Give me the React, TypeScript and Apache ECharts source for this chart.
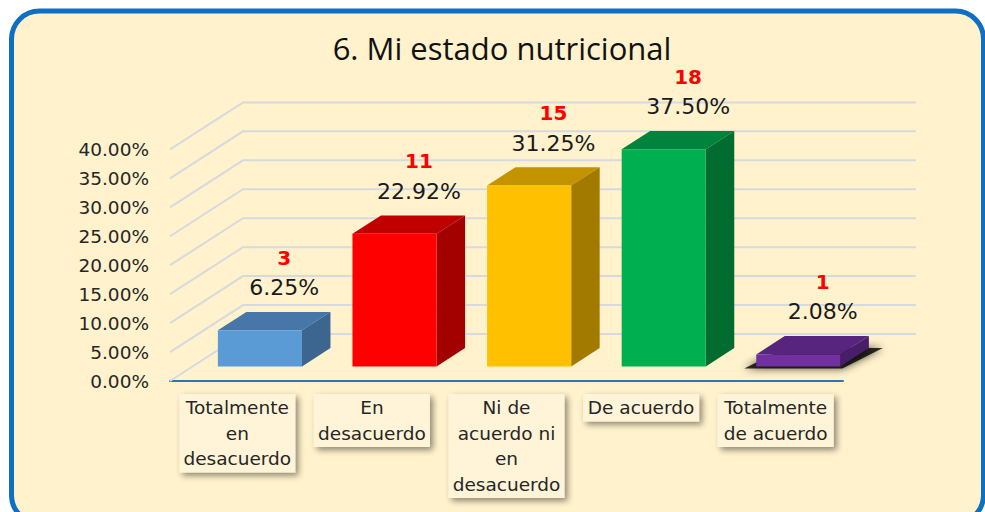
import React, { useEffect, useRef } from "react";
import * as echarts from "echarts";

const TITLE = "6. Mi estado nutricional";
const CATEGORIES = [
  "Totalmente\nen\ndesacuerdo",
  "En\ndesacuerdo",
  "Ni de\nacuerdo ni\nen\ndesacuerdo",
  "De acuerdo",
  "Totalmente\nde acuerdo",
];
const PERCENTS = [6.25, 22.92, 31.25, 37.5, 2.08];
const COUNTS = [3, 11, 15, 18, 1];
const GRID_VALUES = [0, 5, 10, 15, 20, 25, 30, 35, 40];

const FRONT_COLORS = ["#5B9BD5", "#FF0000", "#FFC000", "#00B050", "#7030A0"];
const TOP_COLORS = ["#4677A8", "#C00000", "#C49300", "#00833C", "#57257E"];
const SIDE_COLORS = ["#3C6590", "#A30000", "#A27A00", "#006C30", "#481E68"];
const SHADOWED = [false, false, false, false, true];

// 3D projection constants (pixels for full floor depth)
const DX = 73;
const DY = 47;
const D0 = 0.31;
const D1 = 0.7;
const BAR_RATIO = 0.625;

export default function App() {
  const ref = useRef<HTMLDivElement>(null);

  useEffect(() => {
    if (!ref.current) return;
    const chart = echarts.init(ref.current, null, { renderer: "svg" });

    const renderGrid = (params: any, api: any) => {
      const v = api.value(1);
      const p = api.coord([0, v]);
      const cs = params.coordSys;
      const left = cs.x;
      const right = cs.x + cs.width;
      return {
        type: "polyline",
        shape: {
          points: [
            [left, p[1]],
            [left + DX, p[1] - DY],
            [right + DX, p[1] - DY],
          ],
        },
        style: { stroke: "#D6D9DE", lineWidth: 2, fill: "none" },
      };
    };

    const renderBar = (params: any, api: any) => {
      const idx = api.value(0);
      const val = api.value(1);
      const i = params.dataIndex;
      const base = api.coord([idx, 0]);
      const top = api.coord([idx, val]);
      const band = api.size([1, 0])[0];
      const w = band * BAR_RATIO;
      const cx = base[0];
      const fx0 = cx - w / 2 + D0 * DX;
      const fx1 = cx + w / 2 + D0 * DX;
      const fyb = base[1] - D0 * DY;
      const fyt = top[1] - D0 * DY;
      const bdx = (D1 - D0) * DX;
      const bdy = (D1 - D0) * DY;
      const children: any[] = [];
      if (SHADOWED[i]) {
        children.push({
          type: "polygon",
          shape: {
            points: [
              [fx0 - 12, fyb + 2],
              [fx0 + bdx, fyb - bdy],
              [fx1 + bdx + 14, fyb - bdy],
              [fx1 + 2, fyb + 2],
            ],
          },
          style: {
            fill: "rgba(0,0,0,0.8)",
            shadowBlur: 9,
            shadowColor: "rgba(0,0,0,0.9)",
          },
        });
      }
      children.push(
        {
          type: "polygon",
          shape: {
            points: [
              [fx0, fyt],
              [fx0 + bdx, fyt - bdy],
              [fx1 + bdx, fyt - bdy],
              [fx1, fyt],
            ],
          },
          style: { fill: TOP_COLORS[i] },
        },
        {
          type: "polygon",
          shape: {
            points: [
              [fx1, fyt],
              [fx1 + bdx, fyt - bdy],
              [fx1 + bdx, fyb - bdy],
              [fx1, fyb],
            ],
          },
          style: { fill: SIDE_COLORS[i] },
        },
        {
          type: "rect",
          shape: { x: fx0, y: fyt, width: fx1 - fx0, height: fyb - fyt },
          style: { fill: FRONT_COLORS[i] },
        },
        {
          type: "text",
          x: cx + 47,
          y: top[1] - 57,
          style: {
            text: PERCENTS[i].toFixed(2) + "%",
            fill: "#1A1A1A",
            font: "22px 'DejaVu Sans'",
            align: "center",
            verticalAlign: "middle",
          },
        },
        {
          type: "text",
          x: cx + 47,
          y: top[1] - 87,
          style: {
            text: String(COUNTS[i]),
            fill: "#FF0000",
            font: "bold 20px 'DejaVu Sans'",
            align: "center",
            verticalAlign: "middle",
          },
        }
      );
      return { type: "group", children };
    };

    chart.setOption({
      animation: false,
      backgroundColor: "#FFFFFF",
      graphic: {
        elements: [
          {
            type: "rect",
            z: -10,
            shape: { x: 11.5, y: 11, width: 972, height: 512, r: 28 },
            style: { fill: "#FFF2CC", stroke: "#0F6FC2", lineWidth: 5 },
          },
          {
            type: "text",
            z: 100,
            x: 502,
            y: 48,
            style: {
              text: TITLE,
              fill: "#111111",
              font: "31px 'Open Sans'",
              align: "center",
              verticalAlign: "middle",
            },
          },
        ],
      },
      grid: { left: 170, right: 142, top: 149.4, bottom: 131 },
      xAxis: {
        type: "category",
        data: CATEGORIES,
        axisLine: { show: true, lineStyle: { color: "#2E75B6", width: 2 } },
        axisTick: { show: false },
        axisLabel: {
          interval: 0,
          margin: 13,
          fontFamily: "DejaVu Sans",
          fontSize: 18.5,
          color: "#262626",
          lineHeight: 25.5,
          width: 110,
          overflow: "none",
          align: "center",
          backgroundColor: "#FFF4D8",
          padding: [1, 3, 1, 3],
          shadowColor: "rgba(0,0,0,0.45)",
          shadowBlur: 6,
          shadowOffsetX: 3,
          shadowOffsetY: 3,
        },
      },
      yAxis: {
        type: "value",
        min: 0,
        max: 40,
        interval: 5,
        axisLine: { show: false },
        axisTick: { show: false },
        splitLine: { show: false },
        axisLabel: {
          margin: 21,
          fontFamily: "DejaVu Sans",
          fontSize: 18.5,
          color: "#262626",
          formatter: (v: number) => v.toFixed(2) + "%",
        },
      },
      series: [
        {
          type: "custom",
          z: 1,
          renderItem: renderGrid,
          encode: { x: 0, y: 1 },
          data: GRID_VALUES.map((v) => [0, v]),
          silent: true,
        },
        {
          type: "custom",
          z: 3,
          renderItem: renderBar,
          encode: { x: 0, y: 1 },
          data: PERCENTS.map((v, i) => [i, v]),
        },
      ],
    });

    return () => chart.dispose();
  }, []);

  return (
    <div
      ref={ref}
      style={{ position: "fixed", left: 0, top: 0, width: 985, height: 512 }}
    />
  );
}
